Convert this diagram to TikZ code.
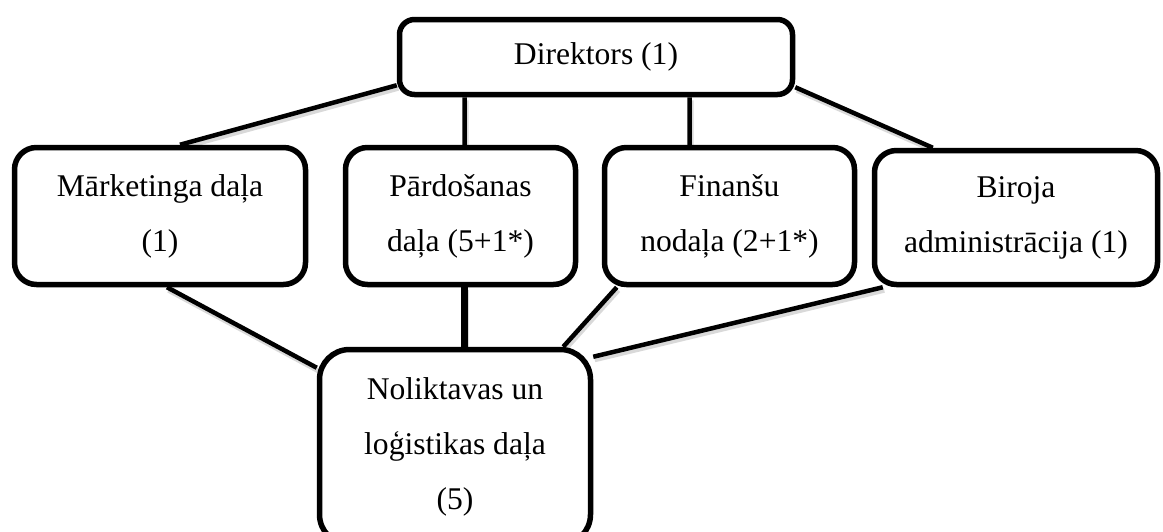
\documentclass[tikz,border=0pt]{standalone}
\usepackage{fontspec}
\setmainfont{Liberation Serif}
\usetikzlibrary{calc,backgrounds}

\def\rowh{137pt}

\begin{document}
\begin{tikzpicture}[x=1pt, y=-1pt, font=\fontsize{31.6}{55}\selectfont]
        \tikzstyle{unit}=[rectangle, draw=black, fill=white, line width=5.5pt, rounded corners=22pt, align=center, inner sep=0pt, minimum height=\rowh]
        \tikzstyle{edge}=[draw=black, line width=4.5pt, preaction={draw=black!15, line width=5pt, transform canvas={shift={(1.5pt,-3pt)}}}]

        \useasboundingbox (0,0) rectangle (1163,531);

        \node[unit, rounded corners=15pt, minimum width=393pt, minimum height=75pt] (Dir) at (596,57) {Direktors (1)};

        \node[unit, minimum width=291pt] (Dep-1) at (160,216) {Mārketinga daļa\\(1)};
        \node[unit, minimum width=230pt] (Dep-2) at (460.5,216) {Pārdošanas\\daļa (5+1*)};
        \node[unit, minimum width=250pt] (Dep-3) at (729.5,216) {Finanšu\\nodaļa (2+1*)};
        \node[unit, minimum width=283pt, minimum height=134pt] (Dep-4) at (1016,217.5) {Biroja\\administrācija (1)};

        \node[unit, rounded corners=30pt, minimum width=271pt, minimum height=195pt] (Nol) at (455,447) {Noliktavas un\\loģistikas daļa\\(5)};

        \begin{pgfonlayer}{background}
        \path[edge]
            ([yshift=12pt]Dir.south west) -- ([xshift=20pt]Dep-1.north)
            ($(Dep-2.north)+(4,0)$) -- ($(Dep-2.north |- Dir.south)+(4,0)$)
            ($(Dep-3.north)+(-40,0)$) -- ($(Dep-3.north |- Dir.south)+(-40,0)$)
            ([yshift=10pt]Dir.south east) -- ([xshift=61pt]Dep-4.north west)
            ([xshift=7pt]Dep-1.south) -- ([yshift=-21pt]Nol.north west)
            ([xshift=15pt]Dep-3.south west) -- ([xshift=-30pt]Nol.north east)
            ([xshift=11pt]Dep-4.south west) -- ([yshift=-10pt]Nol.north east)
        ;
        \path[edge, line width=7pt]
            ($(Dep-2.south)+(4,0)$) -- ($(Dep-2.south |- Nol.north)+(4,0)$);
        \end{pgfonlayer}
\end{tikzpicture}
\end{document}
